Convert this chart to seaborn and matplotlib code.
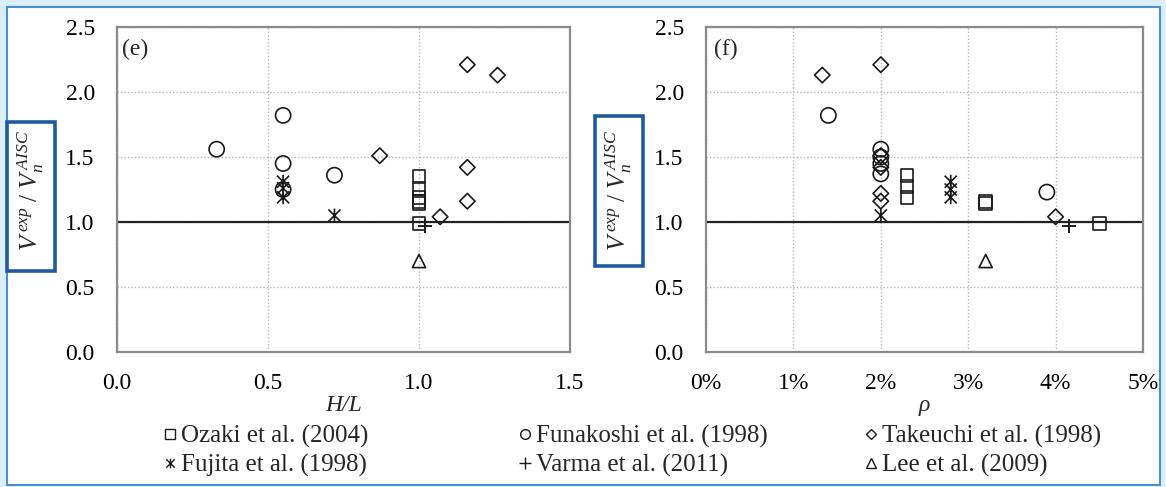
import matplotlib
matplotlib.use("Agg")
import matplotlib.pyplot as plt
from matplotlib.path import Path
from matplotlib.patches import Rectangle
from matplotlib.lines import Line2D
from matplotlib.ticker import MultipleLocator, FuncFormatter
import pandas as pd
import seaborn as sns

# ---- test data: shear strength ratio V_exp / V_n(AISC) ----
studies = ["Ozaki et al. (2004)", "Funakoshi et al. (1998)", "Takeuchi et al. (1998)",
           "Fujita et al. (1998)", "Varma et al. (2011)", "Lee et al. (2009)"]

# panel (e): aspect ratio H/L
ozaki_hl = [1.0, 1.0, 1.0, 1.0, 1.0, 1.0]
ozaki_hl_ratio = [1.35, 1.26, 1.19, 1.16, 1.14, 0.99]
funakoshi_hl = [0.33, 0.55, 0.55, 0.55, 0.72]
funakoshi_hl_ratio = [1.56, 1.82, 1.45, 1.25, 1.36]
takeuchi_hl = [0.87, 1.16, 1.26, 1.16, 1.16, 1.07]
takeuchi_hl_ratio = [1.51, 2.21, 2.13, 1.42, 1.16, 1.04]
fujita_hl = [0.55, 0.55, 0.55, 0.72]
fujita_hl_ratio = [1.31, 1.26, 1.19, 1.05]
varma_hl = [1.02]
varma_hl_ratio = [0.97]
lee_hl = [1.0]
lee_hl_ratio = [0.70]

# panel (f): steel ratio rho (%)
ozaki_rho = [2.3, 2.3, 2.3, 3.2, 3.2, 4.5]
ozaki_rho_ratio = [1.36, 1.27, 1.19, 1.16, 1.14, 0.99]
funakoshi_rho = [1.4, 2.0, 2.0, 2.0, 2.0, 3.9]
funakoshi_rho_ratio = [1.82, 1.56, 1.50, 1.45, 1.37, 1.23]
takeuchi_rho = [1.33, 2.0, 2.0, 2.0, 2.0, 2.0, 4.0]
takeuchi_rho_ratio = [2.13, 2.21, 1.51, 1.42, 1.22, 1.16, 1.04]
fujita_rho = [2.8, 2.8, 2.8, 2.0]
fujita_rho_ratio = [1.31, 1.25, 1.19, 1.05]
varma_rho = [4.15]
varma_rho_ratio = [0.97]
lee_rho = [3.2]
lee_rho_ratio = [0.70]

x_ticks_hl = [0.0, 0.5, 1.0, 1.5]
x_ticks_rho = [0, 1, 2, 3, 4, 5]
y_ticks = [0.0, 0.5, 1.0, 1.5, 2.0, 2.5]

sns.set_theme(style="white")
plt.rcParams["font.family"] = ["Liberation Serif", "DejaVu Serif"]
plt.rcParams["mathtext.fontset"] = "custom"
plt.rcParams["mathtext.rm"] = "Liberation Serif"
plt.rcParams["mathtext.it"] = "Liberation Serif:italic"

# asterisk-like marker: an X crossed by a vertical stroke
star = Path([(-1, -1), (1, 1), (-1, 1), (1, -1), (0, -1.15), (0, 1.15)],
            [Path.MOVETO, Path.LINETO, Path.MOVETO, Path.LINETO, Path.MOVETO, Path.LINETO])

styles = {
    "Ozaki et al. (2004)": dict(marker="s", s=85, hollow=True),
    "Funakoshi et al. (1998)": dict(marker="o", s=120, hollow=True),
    "Takeuchi et al. (1998)": dict(marker="D", s=62, hollow=True),
    "Fujita et al. (1998)": dict(marker=star, s=100, hollow=True),
    "Varma et al. (2011)": dict(marker="+", s=95, hollow=False),
    "Lee et al. (2009)": dict(marker="^", s=90, hollow=True),
}

hl_data = {
    "Ozaki et al. (2004)": (ozaki_hl, ozaki_hl_ratio),
    "Funakoshi et al. (1998)": (funakoshi_hl, funakoshi_hl_ratio),
    "Takeuchi et al. (1998)": (takeuchi_hl, takeuchi_hl_ratio),
    "Fujita et al. (1998)": (fujita_hl, fujita_hl_ratio),
    "Varma et al. (2011)": (varma_hl, varma_hl_ratio),
    "Lee et al. (2009)": (lee_hl, lee_hl_ratio),
}
rho_data = {
    "Ozaki et al. (2004)": (ozaki_rho, ozaki_rho_ratio),
    "Funakoshi et al. (1998)": (funakoshi_rho, funakoshi_rho_ratio),
    "Takeuchi et al. (1998)": (takeuchi_rho, takeuchi_rho_ratio),
    "Fujita et al. (1998)": (fujita_rho, fujita_rho_ratio),
    "Varma et al. (2011)": (varma_rho, varma_rho_ratio),
    "Lee et al. (2009)": (lee_rho, lee_rho_ratio),
}

W, H = 1166, 487
fig = plt.figure(figsize=(W / 100, H / 100), dpi=100)
fig.patch.set_facecolor("#dceef9")


def fx(px):
    return px / W


def fy(py):
    return 1 - py / H


# white card with a thin blue rule, behind everything
fig.patches.append(Rectangle((fx(7), fy(485)), fx(1160) - fx(7), fy(7) - fy(485),
                             transform=fig.transFigure, facecolor="white",
                             edgecolor="#4a8fd0", linewidth=1.5, zorder=-10))

ax_hl = fig.add_axes([fx(117), fy(352), fx(570) - fx(117), fy(27) - fy(352)])
ax_rho = fig.add_axes([fx(706), fy(352), fx(1143) - fx(706), fy(27) - fy(352)])

grey = "#8a8a8a"
tick_font = 17


def style_axes(ax, xmax, xminor, xfmt, xticks):
    ax.set_facecolor("white")
    ax.set_xlim(0, xmax)
    ax.set_ylim(0, 2.5)
    ax.set_xticks(xticks)
    ax.set_yticks(y_ticks)
    ax.xaxis.set_minor_locator(MultipleLocator(xminor))
    ax.xaxis.set_major_formatter(FuncFormatter(xfmt))
    ax.yaxis.set_major_formatter(FuncFormatter(lambda v, p: f"{v:.1f}"))
    ax.grid(True, which="major", color="#b8b8b8", linestyle=(0, (1, 1.5)), linewidth=1.0)
    ax.set_axisbelow(True)
    for sp in ax.spines.values():
        sp.set_visible(True)
        sp.set_color(grey)
        sp.set_linewidth(1.6)
    ax.tick_params(axis="x", which="both", direction="in", length=5, width=1.0,
                   color=grey, pad=15, labelsize=tick_font, labelcolor="black")
    ax.tick_params(axis="y", which="both", length=0, pad=16,
                   labelsize=tick_font, labelcolor="black")
    ax.axhline(1.0, color="#222222", linewidth=1.6, zorder=1.5)


def draw(ax, data):
    for name in studies:
        xs, ys = data[name]
        st = styles[name]
        df = pd.DataFrame({"x": xs, "y": ys})
        if st["hollow"]:
            sns.scatterplot(data=df, x="x", y="y", ax=ax, marker=st["marker"], s=st["s"],
                            color="black", facecolors="none", edgecolor="#1a1a1a",
                            linewidth=1.2, zorder=3, legend=False)
        else:
            sns.scatterplot(data=df, x="x", y="y", ax=ax, marker=st["marker"], s=st["s"],
                            color="#1a1a1a", linewidth=1.4, zorder=3, legend=False)


style_axes(ax_hl, 1.5, 0.1, lambda v, p: f"{v:.1f}", x_ticks_hl)
style_axes(ax_rho, 5, 0.5, lambda v, p: f"{v:.0f}%", x_ticks_rho)
draw(ax_hl, hl_data)
draw(ax_rho, rho_data)

ax_hl.set_xlabel("H/L", fontsize=tick_font, style="italic", labelpad=1)
ax_rho.set_xlabel("ρ", fontsize=tick_font, style="italic", labelpad=1)
ax_hl.set_ylabel("")
ax_rho.set_ylabel("")

ax_hl.text(0.012, 0.93, "(e)", transform=ax_hl.transAxes, fontsize=tick_font,
           ha="left", va="center")
ax_rho.text(0.018, 0.93, "(f)", transform=ax_rho.transAxes, fontsize=tick_font,
            ha="left", va="center")

# boxed vertical axis titles
ylab = r"$V^{\,exp}\ /\ V_{n}^{\,AISC}$"
for (x0, y0, x1, y1) in [(7, 122, 55, 271), (595, 116, 643, 266)]:
    fig.patches.append(Rectangle((fx(x0), fy(y1)), fx(x1) - fx(x0), fy(y0) - fy(y1),
                                 transform=fig.transFigure, facecolor="white",
                                 edgecolor="#1f5a9c", linewidth=2.6, zorder=5))
    fig.text(fx((x0 + x1) / 2), fy(190), ylab, rotation=90, fontsize=18,
             ha="center", va="center", zorder=6)

# legend: three columns, two rows
cols = [(165, ["Ozaki et al. (2004)", "Fujita et al. (1998)"]),
        (520, ["Funakoshi et al. (1998)", "Varma et al. (2011)"]),
        (866, ["Takeuchi et al. (1998)", "Lee et al. (2009)"])]
for x0, names in cols:
    handles = []
    for name in names:
        st = styles[name]
        if st["hollow"]:
            h = Line2D([], [], linestyle="none", marker=st["marker"],
                       markersize=7 if st["marker"] != "D" else 5.5,
                       markerfacecolor="none", markeredgecolor="#1a1a1a", markeredgewidth=1.0)
        else:
            h = Line2D([], [], linestyle="none", marker=st["marker"], markersize=8,
                       color="#1a1a1a", markeredgewidth=1.0)
        handles.append(h)
    fig.legend(handles, names, loc="upper left", bbox_to_anchor=(fx(x0), fy(425)),
               frameon=False, fontsize=18, handlelength=0.4, handletextpad=0.25,
               borderpad=0, borderaxespad=0, labelspacing=0.25)

fig.savefig("out.png", dpi=100, facecolor=fig.get_facecolor())
